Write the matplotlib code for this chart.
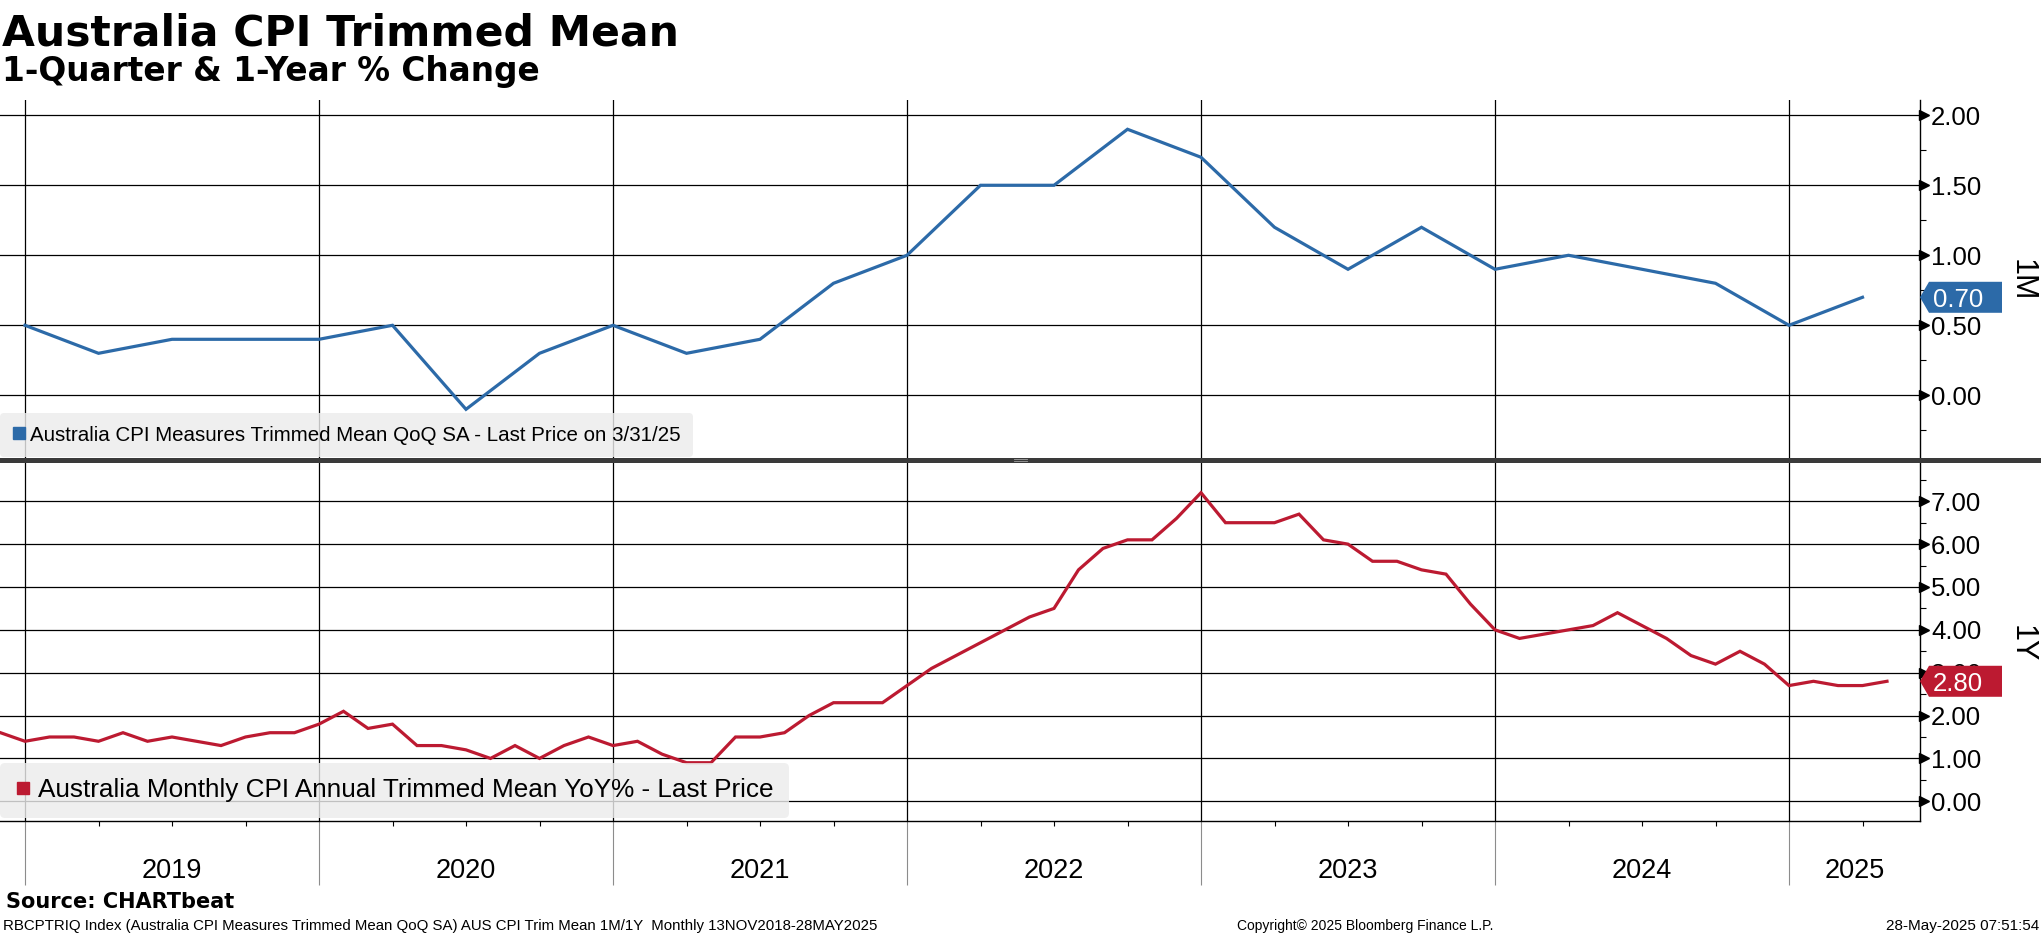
import numpy as np
import pandas as pd
import matplotlib
matplotlib.use("Agg")
import matplotlib.pyplot as plt
import matplotlib.transforms as mtransforms
from matplotlib.lines import Line2D
from matplotlib.patches import Polygon
from matplotlib import font_manager

# ---- data ----
qoq_start = "2018Q4"
qoq_values = [0.5,
              0.3, 0.4, 0.4, 0.4,
              0.5, -0.1, 0.3, 0.5,
              0.3, 0.4, 0.8, 1.0,
              1.5, 1.5, 1.9, 1.7,
              1.2, 0.9, 1.2, 0.9,
              1.0, 0.9, 0.8, 0.5,
              0.7]

yoy_start = "2018-11"
yoy_values = [1.6, 1.4,
              1.5, 1.5, 1.4, 1.6, 1.4, 1.5, 1.4, 1.3, 1.5, 1.6, 1.6, 1.8,
              2.1, 1.7, 1.8, 1.3, 1.3, 1.2, 1.0, 1.3, 1.0, 1.3, 1.5, 1.3,
              1.4, 1.1, 0.9, 0.9, 1.5, 1.5, 1.6, 2.0, 2.3, 2.3, 2.3, 2.7,
              3.1, 3.4, 3.7, 4.0, 4.3, 4.5, 5.4, 5.9, 6.1, 6.1, 6.6, 7.2,
              6.5, 6.5, 6.5, 6.7, 6.1, 6.0, 5.6, 5.6, 5.4, 5.3, 4.6, 4.0,
              3.8, 3.9, 4.0, 4.1, 4.4, 4.1, 3.8, 3.4, 3.2, 3.5, 3.2, 2.7,
              2.8, 2.7, 2.7, 2.8]

years = [2019, 2020, 2021, 2022, 2023, 2024, 2025]
top_ticks = [0.0, 0.5, 1.0, 1.5, 2.0]
bot_ticks = [0.0, 1.0, 2.0, 3.0, 4.0, 5.0, 6.0, 7.0]

top_label = "Australia CPI Measures Trimmed Mean QoQ SA - Last Price on 3/31/25"
bot_label = "Australia Monthly CPI Annual Trimmed Mean YoY% - Last Price"

BLUE = "#2c6aa8"
RED = "#bc1a31"

# positions as decimal years (period end)
pq = pd.period_range(qoq_start, periods=len(qoq_values), freq="Q")
xq = np.array(pq.qyear + pq.quarter * 3 / 12.0, dtype=float)
pm = pd.period_range(yoy_start, periods=len(yoy_values), freq="M")
xm = np.array(pm.year + pm.month / 12.0, dtype=float)

W, H = 2041, 936
def fx(px):
    return px / W
def fy(py):
    return 1 - py / H

names = {f.name for f in font_manager.fontManager.ttflist}
REG = "Liberation Sans" if "Liberation Sans" in names else "DejaVu Sans"
NARROW = "Liberation Sans Narrow" if "Liberation Sans Narrow" in names else REG

fig = plt.figure(figsize=(W / 100, H / 100), dpi=100)
fig.patch.set_facecolor("white")

ax1 = fig.add_axes([0, fy(460), fx(1920), (460 - 100) / H])
ax2 = fig.add_axes([0, fy(821), fx(1920), (821 - 460) / H])

x_left = 2019 - 25 / 294.0
x_right = 2019 + (1920 - 25) / 294.0

for ax in (ax1, ax2):
    for s in ("left", "top", "bottom"):
        ax.spines[s].set_visible(False)
    ax.spines["right"].set_color("black")
    ax.spines["right"].set_linewidth(1.0)
    ax.yaxis.tick_right()
    ax.set_axisbelow(True)
    ax.grid(axis="both", which="major", color="black", lw=0.9)
    ax.set_xticks(years)
    ax.tick_params(axis="y", which="major", length=0, pad=8)
    ax.tick_params(axis="y", which="minor", length=4.5, width=0.8, direction="out", color="black")

ax1.set_yticks(top_ticks)
ax1.set_yticks(np.arange(-0.25, 2.1, 0.25), minor=True)
ax1.yaxis.set_major_formatter(matplotlib.ticker.FormatStrFormatter("%.2f"))
ax1.tick_params(axis="x", which="both", length=0, labelbottom=False)
ax1.set_ylim(-0.462, 2.109)

ax2.set_yticks(bot_ticks)
ax2.set_yticks(np.arange(0.5, 7.6, 1.0), minor=True)
ax2.yaxis.set_major_formatter(matplotlib.ticker.FormatStrFormatter("%.2f"))
ax2.spines["bottom"].set_visible(True)
ax2.spines["bottom"].set_color("black")
ax2.spines["bottom"].set_linewidth(1.0)
ax2.set_xticks(np.arange(2019.25, 2025.5, 0.25), minor=True)
ax2.tick_params(axis="x", which="major", length=46, width=0.8, color="#8c8c8c",
                direction="out", labelbottom=False)
ax2.tick_params(axis="x", which="minor", length=3.5, width=0.8, color="black", direction="out")
ax2.set_ylim(-0.46, 7.963)

for ax in (ax1, ax2):
    ax.set_xlim(x_left, x_right)
for lab in ax1.get_yticklabels() + ax2.get_yticklabels():
    lab.set_family(REG)
    lab.set_fontsize(18.5)

# right axis triangle tick marks
for ax, tk in ((ax1, top_ticks), (ax2, bot_ticks)):
    tr = mtransforms.offset_copy(ax.get_yaxis_transform(), fig=fig, x=4, y=0, units="dots")
    ax.plot(np.ones(len(tk)), tk, ls="none", marker=">", ms=6.5, color="black",
            transform=tr, clip_on=False, zorder=5)

# series
ax1.plot(xq, qoq_values, color=BLUE, lw=2.3, solid_joinstyle="miter", zorder=3)
ax2.plot(xm, yoy_values, color=RED, lw=2.3, solid_joinstyle="miter", zorder=3)

# year labels centred in their visible span
for yr in years:
    b = min(yr + 1, x_right)
    ax2.text((yr + b) / 2, -57 / 361.0, str(yr), transform=ax2.get_xaxis_transform(),
             ha="center", va="baseline", fontsize=19.5, family=REG)

# legends
for ax, lab, col, fs in ((ax1, top_label, BLUE, 14.8), (ax2, bot_label, RED, 18.8)):
    h = Line2D([], [], marker="s", ls="none", color=col, ms=8.5)
    bb = ax.get_position()
    leg = ax.legend([h], [lab], loc="lower left", bbox_to_anchor=(0, 3 / (bb.height * H)),
                    borderaxespad=0, frameon=True, fancybox=True, handlelength=0.6,
                    handletextpad=0.25, borderpad=0.6,
                    prop={"family": REG, "size": fs})
    fr = leg.get_frame()
    fr.set_facecolor("#ececec")
    fr.set_edgecolor("none")
    fr.set_alpha(0.82)

# last value boxes
for ax, vals, col in ((ax1, qoq_values, BLUE), (ax2, yoy_values, RED)):
    last = vals[-1]
    xd = ax.transAxes.transform((1, 0))[0]
    yd = ax.transData.transform((x_left, last))[1]
    verts = np.array([[0, 0], [9, 15.5], [82, 15.5], [82, -15.5], [9, -15.5]]) + [xd, yd]
    poly = Polygon(verts, closed=True, facecolor=col, edgecolor="none",
                   transform=mtransforms.IdentityTransform(), zorder=10)
    fig.add_artist(poly)
    fig.text(xd + 13, yd, f"{last:.2f}", color="white", fontsize=18.5, family=REG,
             ha="left", va="center_baseline", zorder=11,
             transform=mtransforms.IdentityTransform())

# side labels
fig.text(fx(2022), fy(280), "1M", rotation=-90, ha="center", va="center",
         fontsize=22, family=NARROW)
fig.text(fx(2022), fy(644), "1Y", rotation=-90, ha="center", va="center",
         fontsize=22, family=NARROW)

# panel separator
fig.add_artist(Line2D([0, 1], [fy(460), fy(460)], transform=fig.transFigure,
                      color="#3a3a3a", lw=3.6, zorder=20))
for yy in (458.8, 460.8):
    fig.add_artist(Line2D([fx(1014), fx(1027)], [fy(yy), fy(yy)], transform=fig.transFigure,
                          color="#a0a0a0", lw=0.6, zorder=21))

# titles and footer
fig.text(fx(2), fy(45), "Australia CPI Trimmed Mean", fontsize=30.6, weight="bold",
         family="DejaVu Sans", ha="left", va="baseline")
fig.text(fx(2), fy(81), "1-Quarter & 1-Year % Change", fontsize=23.6, weight="bold",
         family="DejaVu Sans", ha="left", va="baseline")
fig.text(fx(6), fy(908), "Source: CHARTbeat", fontsize=15, weight="bold",
         family="DejaVu Sans", ha="left", va="baseline")
fig.text(fx(3), fy(930),
         "RBCPTRIQ Index (Australia CPI Measures Trimmed Mean QoQ SA) AUS CPI Trim Mean 1M/1Y  Monthly 13NOV2018-28MAY2025",
         fontsize=10.8, family=REG, ha="left", va="baseline")
fig.text(fx(1237), fy(930), "Copyright\u00a9 2025 Bloomberg Finance L.P.", fontsize=10,
         family=REG, ha="left", va="baseline")
fig.text(fx(2039), fy(930), "28-May-2025 07:51:54", fontsize=11, family=REG,
         ha="right", va="baseline")

fig.savefig("out.png", dpi=100, facecolor="white")
